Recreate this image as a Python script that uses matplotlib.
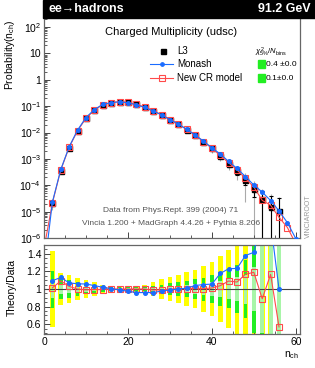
import numpy as np
import matplotlib.pyplot as plt
from matplotlib.patches import Rectangle
from matplotlib.ticker import MultipleLocator, LogLocator, FixedLocator, FixedFormatter, NullFormatter

plt.rcParams.update({
    "font.family": ["Liberation Sans", "DejaVu Sans"],
    "font.size": 7.5,
    "mathtext.fontset": "custom",
    "mathtext.rm": "Liberation Sans",
    "mathtext.it": "Liberation Sans:italic",
    "mathtext.bf": "Liberation Sans:bold",
})

# L3 data, even multiplicities
n_data = np.arange(2, 57, 2)
l3 = np.array([2.1e-5, 3.5e-4, 2.7e-3, 1.17e-2, 3.5e-2, 7.1e-2, 0.115, 0.135,
               0.148, 0.138, 0.117, 0.093, 0.068, 0.048, 0.031, 0.021, 0.013,
               7.8e-3, 4.5e-3, 2.5e-3, 1.3e-3, 6.5e-4, 3.5e-4, 1.55e-4, 7.2e-5,
               3.0e-5, 1.5e-5, 1.07e-5])
# relative uncertainties (1 sigma -> green, wider -> yellow)
err_stat = np.array([0.21, 0.11, 0.10, 0.08, 0.06, 0.045, 0.03, 0.02, 0.02, 0.02,
                     0.02, 0.025, 0.04, 0.05, 0.07, 0.08, 0.09, 0.11, 0.13, 0.16,
                     0.19, 0.22, 0.27, 0.33, 0.5, 1.0, 1.6, 2.0])
err_tot = np.array([0.43, 0.185, 0.155, 0.12, 0.10, 0.075, 0.05, 0.035, 0.03, 0.03,
                    0.03, 0.045, 0.08, 0.11, 0.14, 0.16, 0.19, 0.22, 0.26, 0.31,
                    0.37, 0.44, 0.55, 0.85, 1.1, 1.5, 2.0, 2.5])

# MC predictions, n = 0..60
n_mc = np.arange(0, 61, 2)
monash = np.array([5e-8, 2.30e-5, 3.96e-4, 2.89e-3, 1.24e-2, 3.70e-2, 7.38e-2, 0.1173,
                   0.1357, 0.1465, 0.1346, 0.1123, 0.0893, 0.0653, 0.0469, 0.0307,
                   0.021, 0.01313, 8.11e-3, 4.73e-3, 2.64e-3, 1.53e-3, 8.0e-4,
                   4.32e-4, 2.14e-4, 1.02e-4, 5.5e-5, 2.63e-5, 1.07e-5, 3.8e-6, 9.5e-7])
newcr = np.array([4e-7, 2.13e-5, 3.82e-4, 2.78e-3, 1.17e-2, 3.47e-2, 7.06e-2, 0.1144,
                  0.135, 0.148, 0.138, 0.117, 0.093, 0.0673, 0.0475, 0.031, 0.0211,
                  0.01307, 7.84e-3, 4.52e-3, 2.53e-3, 1.35e-3, 7.09e-4, 3.78e-4,
                  1.81e-4, 8.57e-5, 2.67e-5, 1.75e-5, 6.1e-6, 2.5e-6, 6e-7])

chi2_labels = ["0.4 \u00b10.0", "0.1\u00b10.0"]

BLUE = "#1a6cff"
RED = "#ff4a4a"
GREY = "#555555"

W, H = 315, 368
def fx(px):
    return px / W
def fy(py):
    return 1 - py / H

fig = plt.figure(figsize=(W / 100, H / 100), dpi=100)
ax = fig.add_axes([fx(44), fy(238), (300 - 44) / W, (238 - 18) / H])
rax = fig.add_axes([fx(44), fy(334), (300 - 44) / W, (334 - 245) / H])

# ---- top panel ----
ax.set_yscale("log")
ax.set_xlim(0, 61)
ax.set_ylim(1e-6, 2.2e2)

lo_tot = l3 * np.minimum(err_tot, 0.999)
ax.vlines(n_data, l3 - lo_tot, l3 * (1 + err_tot), color="#aaaaaa", lw=0.8, zorder=1)
lo_st = l3 * np.minimum(err_stat, 0.999)
ax.errorbar(n_data, l3, yerr=[lo_st, l3 * err_stat], fmt="none", ecolor="black",
            elinewidth=0.8, capsize=1.5, capthick=0.8, zorder=2)
ax.plot(n_data, l3, "s", color="black", ms=3.6, zorder=3)
ax.plot(n_mc, newcr, "-", color=RED, lw=0.8, marker="s", mfc="none", mec=RED,
        ms=5, mew=0.8, zorder=4)
ax.plot(n_mc, monash, "-", color=BLUE, lw=0.8, marker="o", ms=2.6, zorder=5)

ax.xaxis.set_major_locator(MultipleLocator(20))
ax.xaxis.set_minor_locator(MultipleLocator(5))
ax.xaxis.set_major_formatter(NullFormatter())
dec = [1e-6, 1e-5, 1e-4, 1e-3, 1e-2, 1e-1, 1, 10, 100]
ax.yaxis.set_major_locator(FixedLocator(dec))
ax.yaxis.set_major_formatter(FixedFormatter(
    ["$10^{-6}$", "$10^{-5}$", "$10^{-4}$", "$10^{-3}$", "$10^{-2}$",
     "$10^{-1}$", "1", "10", "$10^{2}$"]))
ax.yaxis.set_minor_locator(LogLocator(base=10, subs=np.arange(2, 10)))
ax.yaxis.set_minor_formatter(NullFormatter())

# legend
def axf(px, py):
    return (px - 44) / 256, (238 - py) / 220

x, y = axf(163, 51)
ax.plot([x], [y], "s", color="black", ms=3.6, transform=ax.transAxes, clip_on=False)
ax.text(axf(177, 0)[0], y, "L3", transform=ax.transAxes, va="center", fontsize=7)
for py, lab, col, mk, mfc, ms in [(64, "Monash", BLUE, "o", BLUE, 2.6),
                                  (78, "New CR model", RED, "s", "none", 5)]:
    x0, y = axf(150, py)
    x1, _ = axf(173, py)
    ax.plot([x0, x1], [y, y], "-", color=col, lw=0.8, transform=ax.transAxes, clip_on=False)
    ax.plot([(x0 + x1) / 2], [y], mk, color=col, mfc=mfc, mec=col, ms=ms, mew=0.8,
            transform=ax.transAxes, clip_on=False)
    ax.text(axf(177, 0)[0], y, lab, transform=ax.transAxes, va="center", fontsize=7)

x, y = axf(271, 52)
ax.text(x, y, r"$\chi^2_{5\%}/N_{\rm bins}$", transform=ax.transAxes, ha="center",
        va="center", fontsize=5.5)
for py, lab in zip([64, 78], chi2_labels):
    bx, by = axf(258, py + 3.5)
    ax.add_patch(Rectangle((bx, by), 7 / 256, 7 / 220, transform=ax.transAxes,
                           color="#22ee22", clip_on=False))
    ax.text(axf(266, 0)[0], axf(0, py)[1], lab, transform=ax.transAxes, va="center",
            fontsize=6)

x, y = axf(171, 32)
ax.text(x, y, "Charged Multiplicity (udsc)", transform=ax.transAxes, ha="center",
        va="center", fontsize=8)
x, y = axf(171, 211)
ax.text(x, y, "Data from Phys.Rept. 399 (2004) 71", transform=ax.transAxes,
        ha="center", va="center", fontsize=6, color=GREY)
x, y = axf(171, 223.5)
ax.text(x, y, "Vincia 1.200 + MadGraph 4.4.26 + Pythia 8.206", transform=ax.transAxes,
        ha="center", va="center", fontsize=6, color=GREY)

# ---- ratio panel ----
rax.set_xlim(0, 61)
rax.set_ylim(0.49, 1.5)
band_w_y, band_w_g = 1.1, 0.9
rax.bar(n_data, 2 * err_tot, bottom=1 - err_tot, width=band_w_y, color="#ffff00",
        lw=0, zorder=1)
rax.bar(n_data, 2 * err_stat, bottom=1 - err_stat, width=band_w_g, color="#22ee22",
        lw=0, zorder=2)
rax.bar(n_data, err_stat, bottom=1 - err_stat / 2, width=band_w_g, color="#a8f5a8",
        lw=0, zorder=2)
rax.axhline(1, color="#444444", lw=0.8, zorder=3)
rax.plot(n_data, newcr[1:29] / l3, "-", color=RED, lw=0.8, marker="s", mfc="none",
         mec=RED, ms=4.5, mew=0.8, zorder=4)
rax.plot(n_data, monash[1:29] / l3, "-", color=BLUE, lw=0.8, marker="o", ms=2.6, zorder=5)

rax.xaxis.set_major_locator(MultipleLocator(20))
rax.xaxis.set_minor_locator(MultipleLocator(5))
rax.yaxis.set_major_locator(FixedLocator([0.6, 0.8, 1.0, 1.2, 1.4]))
rax.yaxis.set_major_formatter(FixedFormatter(["0.6", "0.8", "1", "1.2", "1.4"]))
rax.yaxis.set_minor_locator(MultipleLocator(0.05))

for a in (ax, rax):
    a.tick_params(which="both", direction="in", colors="#444444", labelcolor="black",
                  labelsize=7.5, top=False, right=False, pad=2)
    a.tick_params(which="major", length=4, width=0.7)
    a.tick_params(which="minor", length=2, width=0.6)
    for s in a.spines.values():
        s.set_color("#666666")
        s.set_linewidth(0.9)
ax.spines["top"].set_visible(False)

# header bar and outer labels
fig.add_artist(Rectangle((fx(43), fy(18)), 1 - fx(43), 18 / H, transform=fig.transFigure,
                         color="black", zorder=10))
fig.text(fx(48), fy(9.5), "ee\u2192hadrons", color="white", fontsize=9, fontweight="bold",
         va="center", ha="left", zorder=11)
fig.text(fx(311), fy(9.5), "91.2 GeV", color="white", fontsize=9, fontweight="bold",
         va="center", ha="right", zorder=11)
fig.text(fx(10), fy(19), r"Probability(n$_{\rm ch}$)", rotation=90, ha="center",
         va="top", fontsize=7.5)
fig.text(fx(12), fy(287), "Theory/Data", rotation=90, ha="center", va="center",
         fontsize=7.5)
fig.text(fx(292), fy(355), r"n$_{\rm ch}$", ha="center", va="center", fontsize=7.5)
fig.text(fx(308), fy(216), "VINCIAROOT", rotation=90, ha="center", va="center",
         fontsize=5, color="#999999")

fig.savefig("out.png", dpi=100)
